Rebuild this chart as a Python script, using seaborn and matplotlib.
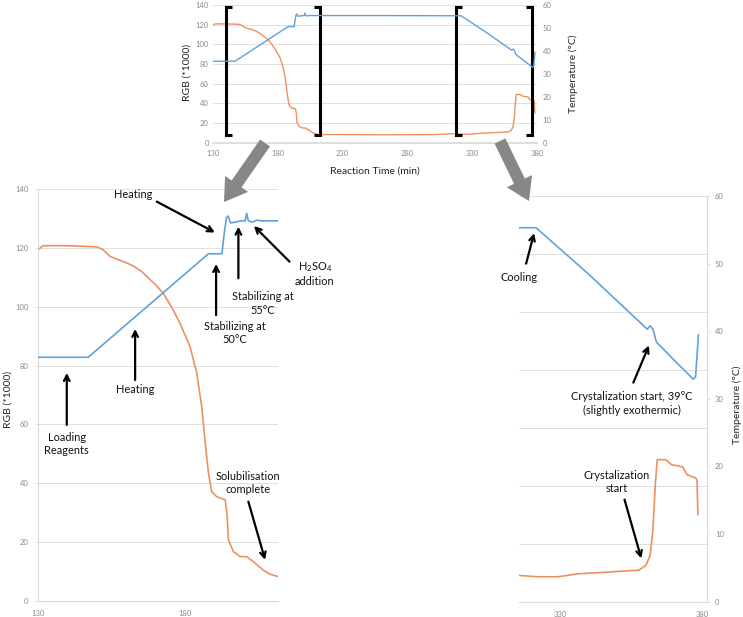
import matplotlib
matplotlib.use("Agg")
import matplotlib.pyplot as plt
import seaborn as sns
from matplotlib.patches import FancyArrow
from matplotlib.ticker import MultipleLocator

# ---------------- data ----------------
rgb_time = [130, 131.5, 140, 150, 152, 154.4, 156.6, 159.5, 162.4, 165, 167, 170,
            172.6, 175.5, 178.3, 181.7, 184, 185.7, 186.8, 188, 189.1, 190.8, 193.7,
            194.3, 194.8, 196.5, 198.8, 201, 203.3, 206.7, 209, 211.8, 220, 240, 260,
            280, 300, 315, 322, 329, 336, 348, 357.5, 360, 361.5, 362.5, 363.3, 364,
            367, 369, 373, 374.5, 377.5, 378, 378.3]
rgb_value = [119.4, 120.8, 120.8, 120.4, 119.5, 117.2, 116.3, 115.2, 113.9, 112.2, 110.3, 107.5,
             104.6, 99.8, 94.4, 86.5, 77.5, 66.0, 54.7, 43.4, 37.1, 35.4, 34.3,
             29.7, 20.7, 16.7, 15.0, 15.0, 13.3, 10.4, 9.0, 8.2, 8.3, 8.2, 8.0,
             8.1, 8.2, 9.1, 8.6, 8.6, 9.6, 10.3, 10.9, 12.5, 16.0, 25.0, 40.0, 49.0,
             49.0, 47.3, 46.5, 43.8, 42.7, 42.0, 30.0]

temp_time = [130, 147, 188, 192.6, 193.2, 194.1, 194.7, 195.5, 197, 199, 200.5, 201,
             201.6, 203, 204.5, 206, 212, 260, 321.4, 340, 360.5, 361.5, 362.5, 363.7,
             370, 376.7, 377.5, 378.5]
temp_value = [35.5, 35.5, 50.6, 50.6, 53.0, 55.8, 56.1, 55.1, 55.2, 55.4, 55.4, 56.5,
              55.4, 55.2, 55.5, 55.4, 55.4, 55.4, 55.3, 48.4, 40.3, 40.8, 40.3, 38.4,
              35.7, 32.9, 33.3, 39.5]

top_xticks = [130, 180, 230, 280, 330, 380]
left_xticks = [130, 180]
right_xticks = [330, 380]
rgb_ticks = [0, 20, 40, 60, 80, 100, 120, 140]
temp_ticks = [0, 10, 20, 30, 40, 50, 60]

# bracket positions on the overview chart (time, direction)
bracket_time = [139.8, 212.6, 317.5, 375.9]
bracket_dir = [1, -1, 1, -1]

left_notes = [
    ("Heating", (162.5, 138.1), (170.4, 135.8), (190.2, 125.3)),
    ("Loading\nReagents", (139.7, 53.3), (139.7, 59.8), (139.7, 77.5)),
    ("Heating", (163.0, 72.0), (163.0, 75.1), (163.0, 92.5)),
    ("Stabilizing at\n50°C", (197.0, 91.1), (190.6, 97.2), (190.6, 114.6)),
    ("Stabilizing at\n55°C", (206.4, 101.1), (198.2, 109.7), (198.2, 127.3)),
    ("H$_\\mathregular{2}$SO$_\\mathregular{4}$\naddition", (224.3, 111.3), (215.6, 115.4), (203.5, 127.5)),
    ("Solubilisation\ncomplete", (201.6, 40.1), (201.6, 33.7), (207.3, 13.9)),
]
right_notes = [
    ("Cooling", (315.5, 47.9), (317.9, 50.0), (320.7, 54.5)),
    ("Crystalization start, 39°C\n(slightly exothermic)", (355.2, 29.3), (355.6, 32.4), (361.1, 37.9)),
    ("Crystalization\nstart", (349.7, 17.7), (352.5, 15.1), (358.4, 6.4)),
]

# ---------------- style ----------------
sns.set_theme(style="white")
plt.rcParams["font.family"] = ["Lato", "DejaVu Sans"]
plt.rcParams["mathtext.fontset"] = "custom"
plt.rcParams["mathtext.rm"] = "Lato"
plt.rcParams["mathtext.it"] = "Lato:italic"
plt.rcParams["mathtext.bf"] = "Lato:bold"

ORANGE = "#EE9160"
BLUE = "#62A0DC"
GRID = "#dadada"
TICKC = "#8a8a8a"
LABC = "#262626"
TXT = "#111111"
NOTE_FS = 7.9

W, H = 743, 617
fig = plt.figure(figsize=(W / 100, H / 100), dpi=100)
fig.patch.set_facecolor("white")


def px_axes(l, r, t, b):
    return fig.add_axes([l / W, 1 - b / H, (r - l) / W, (b - t) / H])


def base_style(ax):
    ax.set_facecolor("none")
    for s in ax.spines.values():
        s.set_visible(False)
    ax.grid(False)


def draw_lines(ax_rgb, ax_temp, lw=1.2):
    sns.lineplot(x=rgb_time, y=rgb_value, ax=ax_rgb, color=ORANGE, linewidth=lw, estimator=None)
    sns.lineplot(x=temp_time, y=temp_value, ax=ax_temp, color=BLUE, linewidth=lw, estimator=None)


# ---------------- overview chart ----------------
ax_top = px_axes(213, 537, 5, 142.7)
ax_top_t = ax_top.twinx()
for a in (ax_top, ax_top_t):
    base_style(a)
ax_top.set_xlim(130, 380)
ax_top.set_ylim(0, 140)
ax_top_t.set_ylim(0, 60)
ax_top.set_yticks(rgb_ticks)
ax_top_t.set_yticks(temp_ticks)
ax_top.set_xticks(top_xticks)
ax_top.xaxis.set_minor_locator(MultipleLocator(10))
ax_top.yaxis.grid(True, color=GRID, linewidth=0.6)
ax_top.set_axisbelow(True)
ax_top.spines["bottom"].set_visible(True)
ax_top.spines["bottom"].set_color(GRID)
ax_top.tick_params(axis="both", which="major", labelsize=5.5, labelcolor=TICKC, length=0, pad=3)
ax_top.tick_params(axis="x", which="minor", length=2, color=GRID, width=0.6)
ax_top.tick_params(axis="x", which="major", length=2, color=GRID, width=0.6)
ax_top_t.tick_params(axis="y", labelsize=5.5, labelcolor=TICKC, length=0, pad=4)
draw_lines(ax_top, ax_top_t, lw=1.0)
ax_top.set_ylabel("RGB (*1000)", fontsize=7.5, color=LABC)
ax_top.yaxis.set_label_coords(-0.067, 0.51)
ax_top_t.set_ylabel("Temperature (°C)", fontsize=7.5, color=LABC)
ax_top_t.yaxis.set_label_coords(1.096, 0.5)
ax_top.set_xlabel("Reaction Time (min)", fontsize=7.5, color=LABC)
ax_top.xaxis.set_label_coords(0.5, -0.17)

serif = 4.5
for bt, bd in zip(bracket_time, bracket_dir):
    ax_top.plot([bt + bd * serif, bt, bt, bt + bd * serif], [7.8, 7.8, 138.3, 138.3],
                color="black", linewidth=2.2, solid_joinstyle="miter", solid_capstyle="butt",
                clip_on=False, zorder=5)

# ---------------- bottom-left detail ----------------
ax_bl = px_axes(38.3, 278.3, 189.3, 600.7)
ax_bl_t = ax_bl.twinx()
for a in (ax_bl, ax_bl_t):
    base_style(a)
ax_bl.set_xlim(130, 211.8)
ax_bl.set_ylim(0, 140)
ax_bl_t.set_ylim(0, 60)
ax_bl.set_yticks(rgb_ticks)
ax_bl_t.set_yticks([])
ax_bl.set_xticks(left_xticks)
ax_bl.xaxis.set_minor_locator(MultipleLocator(10))
ax_bl.yaxis.grid(True, color=GRID, linewidth=0.6)
ax_bl.set_axisbelow(True)
for s in ("left", "bottom"):
    ax_bl.spines[s].set_visible(True)
    ax_bl.spines[s].set_color(GRID)
    ax_bl.spines[s].set_linewidth(0.8)
ax_bl.tick_params(axis="both", which="major", labelsize=5.5, labelcolor=TICKC, length=2,
                  color=GRID, width=0.6, pad=5)
ax_bl.tick_params(axis="x", which="minor", length=2, color=GRID, width=0.6)
draw_lines(ax_bl, ax_bl_t, lw=1.2)
ax_bl.set_ylabel("RGB (*1000)", fontsize=7.5, color=LABC)
ax_bl.yaxis.set_label_coords(-0.108, 0.49)

arrow_kw = dict(arrowstyle="->", color="black", lw=1.6, shrinkA=0, shrinkB=0, mutation_scale=10)
for txt, tpos, tail, head in left_notes:
    ax_bl.text(tpos[0], tpos[1], txt, ha="center", va="center", fontsize=NOTE_FS, color=TXT,
               linespacing=1.3, clip_on=False)
    ax_bl.annotate("", xy=head, xytext=tail, arrowprops=arrow_kw, annotation_clip=False)

# ---------------- bottom-right detail ----------------
ax_br = px_axes(519.3, 706.7, 196, 601.7)
ax_br_t = ax_br.twinx()
for a in (ax_br, ax_br_t):
    base_style(a)
ax_br.set_xlim(315.5, 381.4)
ax_br.set_ylim(0, 140)
ax_br_t.set_ylim(0, 60)
ax_br.set_yticks(rgb_ticks)
ax_br.tick_params(axis="y", labelleft=False, length=0)
ax_br_t.set_yticks(temp_ticks)
ax_br.set_xticks(right_xticks)
ax_br.xaxis.set_minor_locator(MultipleLocator(10))
ax_br.yaxis.grid(True, color=GRID, linewidth=0.6)
ax_br.set_axisbelow(True)
ax_br.spines["bottom"].set_visible(True)
ax_br.spines["bottom"].set_color(GRID)
ax_br.spines["bottom"].set_linewidth(0.8)
ax_br_t.spines["right"].set_visible(True)
ax_br_t.spines["right"].set_color(GRID)
ax_br_t.spines["right"].set_linewidth(0.8)
ax_br.tick_params(axis="x", which="major", labelsize=5.5, labelcolor=TICKC, length=2,
                  color=GRID, width=0.6, pad=5)
ax_br.tick_params(axis="x", which="minor", length=2, color=GRID, width=0.6)
ax_br_t.tick_params(axis="y", labelsize=5.5, labelcolor=TICKC, length=2, color=GRID,
                    width=0.6, pad=4)
draw_lines(ax_br, ax_br_t, lw=1.2)
ax_br_t.set_ylabel("Temperature (°C)", fontsize=7.5, color=LABC)
ax_br_t.yaxis.set_label_coords(1.14, 0.485)

for txt, tpos, tail, head in right_notes:
    ax_br_t.text(tpos[0], tpos[1], txt, ha="center", va="center", fontsize=NOTE_FS, color=TXT,
                 linespacing=1.3, clip_on=False)
    ax_br_t.annotate("", xy=head, xytext=tail, arrowprops=arrow_kw, annotation_clip=False)

# ---------------- zoom arrows (gray) ----------------
for (x0, y0, x1, y1) in [(265, 143, 224, 202), (500, 141, 529, 201)]:
    fig.add_artist(FancyArrow(x0 / 100, (H - y0) / 100, (x1 - x0) / 100, -(y1 - y0) / 100,
                              width=0.12, head_width=0.28, head_length=0.22,
                              length_includes_head=True, transform=fig.dpi_scale_trans,
                              color="#878787", linewidth=0, zorder=10))

fig.savefig("out.png", dpi=100)
